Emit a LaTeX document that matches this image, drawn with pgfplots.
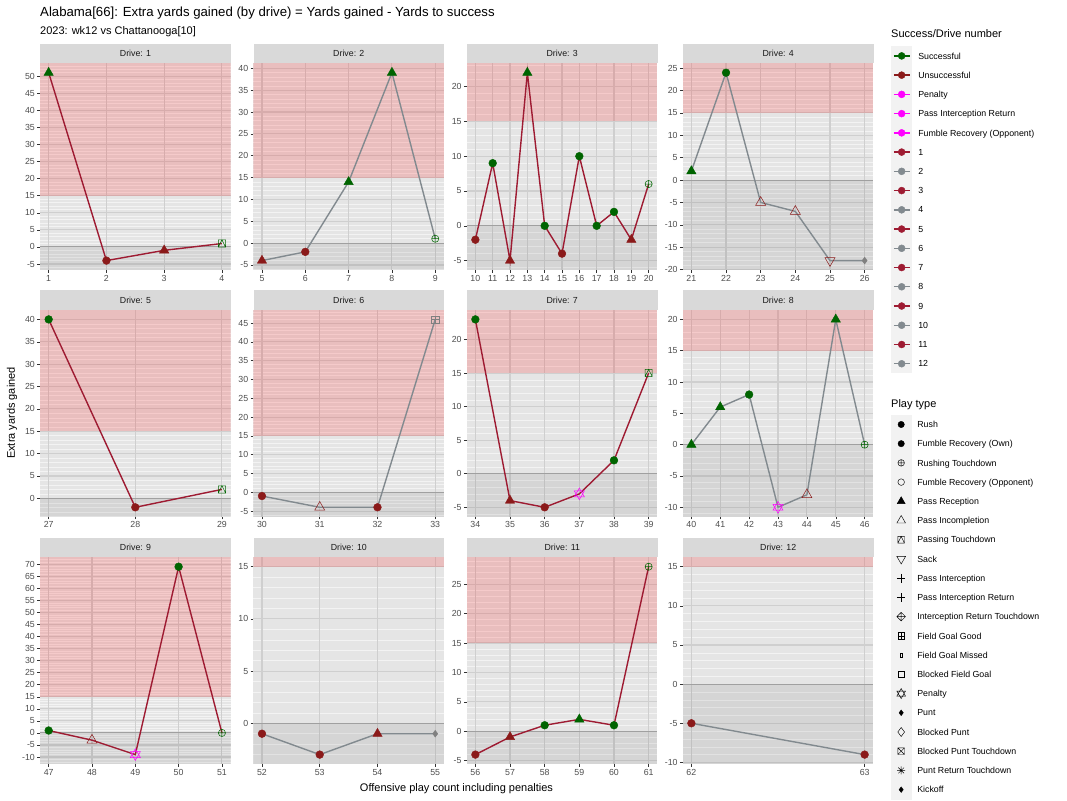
\documentclass[border=0pt]{standalone}
\usepackage{fontspec}
\setmainfont{Liberation Sans}
\usepackage{pgfplots}
\pgfplotsset{compat=1.18}
\usepackage{pgfplotstable}

\definecolor{sgreen}{HTML}{006400}
\definecolor{sred}{HTML}{8B1A1A}
\definecolor{crim}{HTML}{9E1B32}
\definecolor{dgrey}{HTML}{828A8F}
\definecolor{pgrey}{HTML}{808080}
\definecolor{mag}{HTML}{FF00FF}
\definecolor{stripbg}{HTML}{D9D9D9}
\definecolor{panelbg}{HTML}{E5E5E5}
\definecolor{majgrid}{HTML}{CFCFCF}
\definecolor{mingrid}{HTML}{F3F3F3}
\definecolor{keybg}{HTML}{F2F2F2}
\definecolor{ticklab}{HTML}{4D4D4D}
\definecolor{tickc}{HTML}{333333}
\definecolor{zerol}{HTML}{A0A0A0}

% ggplot-like shapes
\pgfdeclareplotmark{ptd}{%
  \pgfpathrectangle{\pgfqpoint{-\pgfplotmarksize}{-\pgfplotmarksize}}{\pgfqpoint{2\pgfplotmarksize}{2\pgfplotmarksize}}%
  \pgfpathmoveto{\pgfqpoint{-\pgfplotmarksize}{-\pgfplotmarksize}}%
  \pgfpathlineto{\pgfqpoint{0pt}{\pgfplotmarksize}}%
  \pgfpathlineto{\pgfqpoint{\pgfplotmarksize}{-\pgfplotmarksize}}%
  \pgfusepathqstroke}
\pgfdeclareplotmark{fgg}{%
  \pgfpathrectangle{\pgfqpoint{-\pgfplotmarksize}{-\pgfplotmarksize}}{\pgfqpoint{2\pgfplotmarksize}{2\pgfplotmarksize}}%
  \pgfpathmoveto{\pgfqpoint{-\pgfplotmarksize}{0pt}}\pgfpathlineto{\pgfqpoint{\pgfplotmarksize}{0pt}}%
  \pgfpathmoveto{\pgfqpoint{0pt}{-\pgfplotmarksize}}\pgfpathlineto{\pgfqpoint{0pt}{\pgfplotmarksize}}%
  \pgfusepathqstroke}
\pgfdeclareplotmark{boxx}{%
  \pgfpathrectangle{\pgfqpoint{-\pgfplotmarksize}{-\pgfplotmarksize}}{\pgfqpoint{2\pgfplotmarksize}{2\pgfplotmarksize}}%
  \pgfpathmoveto{\pgfqpoint{-\pgfplotmarksize}{-\pgfplotmarksize}}\pgfpathlineto{\pgfqpoint{\pgfplotmarksize}{\pgfplotmarksize}}%
  \pgfpathmoveto{\pgfqpoint{-\pgfplotmarksize}{\pgfplotmarksize}}\pgfpathlineto{\pgfqpoint{\pgfplotmarksize}{-\pgfplotmarksize}}%
  \pgfusepathqstroke}
\pgfdeclareplotmark{dplus}{%
  \pgfpathmoveto{\pgfqpoint{0pt}{\pgfplotmarksize}}\pgfpathlineto{\pgfqpoint{\pgfplotmarksize}{0pt}}%
  \pgfpathlineto{\pgfqpoint{0pt}{-\pgfplotmarksize}}\pgfpathlineto{\pgfqpoint{-\pgfplotmarksize}{0pt}}\pgfpathclose
  \pgfpathmoveto{\pgfqpoint{-\pgfplotmarksize}{0pt}}\pgfpathlineto{\pgfqpoint{\pgfplotmarksize}{0pt}}%
  \pgfpathmoveto{\pgfqpoint{0pt}{-\pgfplotmarksize}}\pgfpathlineto{\pgfqpoint{0pt}{\pgfplotmarksize}}%
  \pgfusepathqstroke}
\pgfdeclareplotmark{sack}{%
  \pgfpathmoveto{\pgfqpoint{0pt}{-\pgfplotmarksize}}%
  \pgfpathlineto{\pgfqpoint{-0.866\pgfplotmarksize}{0.5\pgfplotmarksize}}%
  \pgfpathlineto{\pgfqpoint{0.866\pgfplotmarksize}{0.5\pgfplotmarksize}}\pgfpathclose
  \pgfusepathqstroke}
\pgfdeclareplotmark{david}{%
  \pgfpathmoveto{\pgfqpoint{0pt}{\pgfplotmarksize}}%
  \pgfpathlineto{\pgfqpoint{-0.866\pgfplotmarksize}{-0.5\pgfplotmarksize}}%
  \pgfpathlineto{\pgfqpoint{0.866\pgfplotmarksize}{-0.5\pgfplotmarksize}}\pgfpathclose
  \pgfpathmoveto{\pgfqpoint{0pt}{-\pgfplotmarksize}}%
  \pgfpathlineto{\pgfqpoint{-0.866\pgfplotmarksize}{0.5\pgfplotmarksize}}%
  \pgfpathlineto{\pgfqpoint{0.866\pgfplotmarksize}{0.5\pgfplotmarksize}}\pgfpathclose
  \pgfusepathqstroke}
\pgfdeclareplotmark{fgm}{%
  \pgfpathrectangle{\pgfqpoint{-0.3\pgfplotmarksize}{-0.7\pgfplotmarksize}}{\pgfqpoint{0.6\pgfplotmarksize}{1.4\pgfplotmarksize}}%
  \pgfusepathqstroke}
\pgfdeclareplotmark{star8}{%
  \pgfpathmoveto{\pgfqpoint{-\pgfplotmarksize}{0pt}}\pgfpathlineto{\pgfqpoint{\pgfplotmarksize}{0pt}}%
  \pgfpathmoveto{\pgfqpoint{0pt}{-\pgfplotmarksize}}\pgfpathlineto{\pgfqpoint{0pt}{\pgfplotmarksize}}%
  \pgfpathmoveto{\pgfqpoint{-0.707\pgfplotmarksize}{-0.707\pgfplotmarksize}}\pgfpathlineto{\pgfqpoint{0.707\pgfplotmarksize}{0.707\pgfplotmarksize}}%
  \pgfpathmoveto{\pgfqpoint{-0.707\pgfplotmarksize}{0.707\pgfplotmarksize}}\pgfpathlineto{\pgfqpoint{0.707\pgfplotmarksize}{-0.707\pgfplotmarksize}}%
  \pgfusepathqstroke}

\newcommand{\kh}{8.92pt}% half height of a legend key
\pgfplotsset{
  panel/.style={
    width=190.6pt, height=206.7pt, scale only axis,
    axis background/.style={fill=panelbg},
    axis x line*=bottom, axis y line*=left,
    axis line style={draw=none},
    tick align=outside, major tick length=2.75pt, minor tick length=0pt,
    tick style={draw=tickc, line width=0.5pt},
    xtick distance=1, ytick distance=5, minor y tick num=4,
    ymajorgrids, yminorgrids,
    major grid style={draw=majgrid, line width=1.07pt},
    minor grid style={draw=mingrid, line width=0.53pt},
    extra x tick labels={},
    extra x tick style={xmajorgrids=true, major tick length=0pt},
    ticklabel style={font=\fontsize{8.8}{10}\selectfont, text=ticklab},
    xticklabel style={inner sep=0pt, yshift=-2.2pt},
    yticklabel style={inner sep=0pt, xshift=-2.2pt},
    /pgf/number format/assume math mode=true,
    scaled ticks=false,
  },
  pts/.style={scatter, only marks, scatter src=explicit symbolic,
    scatter/classes={
      rg={mark=*, mark size=3.9pt, draw=sgreen, fill=sgreen},
      rr={mark=*, mark size=3.9pt, draw=sred, fill=sred},
      tg={mark=triangle*, mark size=5.4pt, draw=sgreen, fill=sgreen},
      tr={mark=triangle*, mark size=5.4pt, draw=sred, fill=sred},
      ir={mark=triangle, mark size=5.8pt, draw=sred, line width=0.5pt},
      pg={mark=ptd, mark size=3.6pt, draw=sgreen, line width=0.5pt},
      ug={mark=oplus, mark size=3.6pt, draw=sgreen, line width=0.5pt},
      sk={mark=sack, mark size=5.8pt, draw=sred, line width=0.5pt},
      pn={mark=david, mark size=5.8pt, draw=mag, line width=0.5pt},
      pt={mark=diamond*, mark size=3.4pt, draw=pgrey, fill=pgrey},
      fg={mark=fgg, mark size=3.6pt, draw=pgrey, line width=0.5pt}}},
  keys/.style={hide axis, at={(0pt,0pt)}, anchor=south west,
    width=1067pt, height=800pt, scale only axis,
    xmin=0, xmax=1, ymin=0, ymax=1,
    legend cell align=left,
    legend style={draw=none, fill=none, inner sep=0pt, row sep=0pt,
      column sep=6.2pt, font=\fontsize{8.8}{10}\selectfont,
      nodes={inner sep=0pt, minimum height=2*\kh, text depth=0pt, anchor=west}},
    legend image code/.code={%
      \fill[keybg] (0pt,-\kh) rectangle (19.5pt,\kh);
      \draw[##1, mark repeat=2, mark phase=2] plot coordinates {(1.9pt,0pt) (9.75pt,0pt) (17.6pt,0pt)};}},
}
\tikzset{strip/.style={fill=stripbg, inner sep=0pt, minimum width=190.6pt,
  minimum height=19.3pt, font=\fontsize{8.8}{10}\selectfont, text=black!90}}

% x = offensive play, y = extra yards, c = play type / success
\pgfplotstableread[row sep=\\]{x y c\\ 1 51 tg\\ 2 -4 rr\\ 3 -1 tr\\ 4 1 pg\\}\dA
\pgfplotstableread[row sep=\\]{x y c\\ 5 -4 tr\\ 6 -2 rr\\ 7 14 tg\\ 8 39 tg\\ 9 1 ug\\}\dB
\pgfplotstableread[row sep=\\]{x y c\\ 10 -2 rr\\ 11 9 rg\\ 12 -5 tr\\ 13 22 tg\\ 14 0 rg\\ 15 -4 rr\\ 16 10 rg\\ 17 0 rg\\ 18 2 rg\\ 19 -2 tr\\ 20 6 ug\\}\dC
\pgfplotstableread[row sep=\\]{x y c\\ 21 2 tg\\ 22 24 rg\\ 23 -5 ir\\ 24 -7 ir\\ 25 -18 sk\\ 26 -18 pt\\}\dD
\pgfplotstableread[row sep=\\]{x y c\\ 27 40 rg\\ 28 -2 rr\\ 29 2 pg\\}\dE
\pgfplotstableread[row sep=\\]{x y c\\ 30 -1 rr\\ 31 -4 ir\\ 32 -4 rr\\ 33 46 fg\\}\dF
\pgfplotstableread[row sep=\\]{x y c\\ 34 23 rg\\ 35 -4 tr\\ 36 -5 rr\\ 37 -3 pn\\ 38 2 rg\\ 39 15 pg\\}\dG
\pgfplotstableread[row sep=\\]{x y c\\ 40 0 tg\\ 41 6 tg\\ 42 8 rg\\ 43 -10 pn\\ 44 -8 ir\\ 45 20 tg\\ 46 0 ug\\}\dH
\pgfplotstableread[row sep=\\]{x y c\\ 47 1 rg\\ 48 -3 ir\\ 49 -9 pn\\ 50 69 rg\\ 51 0 ug\\}\dI
\pgfplotstableread[row sep=\\]{x y c\\ 52 -1 rr\\ 53 -3 rr\\ 54 -1 tr\\ 55 -1 pt\\}\dJ
\pgfplotstableread[row sep=\\]{x y c\\ 56 -4 rr\\ 57 -1 tr\\ 58 1 rg\\ 59 2 tg\\ 60 1 rg\\ 61 28 ug\\}\dK
\pgfplotstableread[row sep=\\]{x y c\\ 62 -5 rr\\ 63 -9 rr\\}\dL

% #1 left, #2 top (px from top), #3-#6 limits, #7 strip, #8 table, #9 line colour
\newcommand{\panel}[9]{%
\pgfmathtruncatemacro\xa{ceil(#3)}%
\pgfmathtruncatemacro\xb{floor(#4)}%
\begin{axis}[panel, at={({#1pt},{800pt-#2pt})}, anchor=north west,
  xmin=#3, xmax=#4, ymin=#5, ymax=#6, extra x ticks={\xa,...,\xb}]
\addplot[draw=none, fill=red, fill opacity=0.17] coordinates {(#3,15) (#4,15) (#4,#6) (#3,#6)} -- cycle;
\addplot[draw=none, fill=black, fill opacity=0.065] coordinates {(#3,#5) (#4,#5) (#4,0) (#3,0)} -- cycle;
\addplot[draw=zerol, line width=1pt] coordinates {(#3,0) (#4,0)};
\addplot[draw=#9, line width=1.4pt] table[x=x, y=y] {#8};
\addplot[pts] table[x=x, y=y, meta=c] {#8};
\end{axis}
\node[strip, anchor=south west] at ({#1pt},{800pt-#2pt}) {#7};
}

\begin{document}
\begin{tikzpicture}
\path[use as bounding box] (0pt,0pt) rectangle (1067pt,800pt);

\panel{40}{63.3}{0.85}{4.15}{-6.75}{53.75}{Drive: 1}{\dA}{crim}
\panel{253.3}{63.3}{4.8}{9.2}{-6.15}{41.15}{Drive: 2}{\dB}{dgrey}
\panel{466.7}{63.3}{9.5}{20.5}{-6.35}{23.35}{Drive: 3}{\dC}{crim}
\panel{682.7}{63.3}{20.75}{26.25}{-20.1}{26.1}{Drive: 4}{\dD}{dgrey}
\panel{40}{310}{26.9}{29.1}{-4.1}{42.1}{Drive: 5}{\dE}{crim}
\panel{253.3}{310}{29.85}{33.15}{-6.5}{48.5}{Drive: 6}{\dF}{dgrey}
\panel{466.7}{310}{33.75}{39.25}{-6.4}{24.4}{Drive: 7}{\dG}{crim}
\panel{682.7}{310}{39.7}{46.3}{-11.5}{21.5}{Drive: 8}{\dH}{dgrey}
\panel{40}{557.3}{46.8}{51.2}{-12.9}{72.9}{Drive: 9}{\dI}{crim}
\panel{253.3}{557.3}{51.85}{55.15}{-3.9}{15.9}{Drive: 10}{\dJ}{dgrey}
\panel{466.7}{557.3}{55.75}{61.25}{-5.6}{29.6}{Drive: 11}{\dK}{crim}
\panel{682.7}{557.3}{61.95}{63.05}{-10.2}{16.2}{Drive: 12}{\dL}{dgrey}

\node[anchor=base west, inner sep=0pt, font=\fontsize{13.2}{15}\selectfont] at (40pt,{800pt-16.7pt})
  {Alabama[66]: Extra yards gained (by drive) = Yards gained - Yards to success};
\node[anchor=base west, inner sep=0pt, font=\fontsize{11}{13}\selectfont] at (40pt,{800pt-35pt})
  {2023: wk12 vs Chattanooga[10]};
\node[anchor=base, inner sep=0pt, font=\fontsize{11}{13}\selectfont] at (456.5pt,{800pt-791pt})
  {Offensive play count including penalties};
\node[rotate=90, inner sep=0pt, font=\fontsize{11}{13}\selectfont] at (12pt,{800pt-413pt})
  {Extra yards gained};
\node[anchor=base west, inner sep=0pt, font=\fontsize{11}{13}\selectfont] at (891pt,{800pt-38pt})
  {Success/Drive number};
\node[anchor=base west, inner sep=0pt, font=\fontsize{11}{13}\selectfont] at (891pt,{800pt-407.8pt})
  {Play type};

\begin{axis}[keys, legend style={at={(axis description cs:0.83505,0.94238)}, anchor=north west}]
\addlegendimage{sgreen, line width=1.4pt, mark=*, mark size=3.5pt, mark options={line width=0.4pt}}\addlegendentry{Successful}
\addlegendimage{sred, line width=1.4pt, mark=*, mark size=3.5pt, mark options={line width=0.4pt}}\addlegendentry{Unsuccessful}
\addlegendimage{mag, line width=1.4pt, mark=*, mark size=3.5pt, mark options={line width=0.4pt}}\addlegendentry{Penalty}
\addlegendimage{mag, line width=1.4pt, mark=*, mark size=3.5pt, mark options={line width=0.4pt}}\addlegendentry{Pass Interception Return}
\addlegendimage{mag, line width=1.4pt, mark=*, mark size=3.5pt, mark options={line width=0.4pt}}\addlegendentry{Fumble Recovery (Opponent)}
\addlegendimage{crim, line width=1.4pt, mark=*, mark size=3.5pt, mark options={line width=0.4pt}}\addlegendentry{1}
\addlegendimage{dgrey, line width=1.4pt, mark=*, mark size=3.5pt, mark options={line width=0.4pt}}\addlegendentry{2}
\addlegendimage{crim, line width=1.4pt, mark=*, mark size=3.5pt, mark options={line width=0.4pt}}\addlegendentry{3}
\addlegendimage{dgrey, line width=1.4pt, mark=*, mark size=3.5pt, mark options={line width=0.4pt}}\addlegendentry{4}
\addlegendimage{crim, line width=1.4pt, mark=*, mark size=3.5pt, mark options={line width=0.4pt}}\addlegendentry{5}
\addlegendimage{dgrey, line width=1.4pt, mark=*, mark size=3.5pt, mark options={line width=0.4pt}}\addlegendentry{6}
\addlegendimage{crim, line width=1.4pt, mark=*, mark size=3.5pt, mark options={line width=0.4pt}}\addlegendentry{7}
\addlegendimage{dgrey, line width=1.4pt, mark=*, mark size=3.5pt, mark options={line width=0.4pt}}\addlegendentry{8}
\addlegendimage{crim, line width=1.4pt, mark=*, mark size=3.5pt, mark options={line width=0.4pt}}\addlegendentry{9}
\addlegendimage{dgrey, line width=1.4pt, mark=*, mark size=3.5pt, mark options={line width=0.4pt}}\addlegendentry{10}
\addlegendimage{crim, line width=1.4pt, mark=*, mark size=3.5pt, mark options={line width=0.4pt}}\addlegendentry{11}
\addlegendimage{dgrey, line width=1.4pt, mark=*, mark size=3.5pt, mark options={line width=0.4pt}}\addlegendentry{12}
\end{axis}

\renewcommand{\kh}{9.39pt}
\begin{axis}[keys, legend style={at={(axis description cs:0.83505,0.48163)}, anchor=north west}]
\addlegendimage{only marks, black, mark=*, mark size=3.2pt}\addlegendentry{Rush}
\addlegendimage{only marks, black, mark=*, mark size=3.2pt}\addlegendentry{Fumble Recovery (Own)}
\addlegendimage{only marks, black, mark=oplus, mark size=3.3pt, line width=0.45pt}\addlegendentry{Rushing Touchdown}
\addlegendimage{only marks, black, mark=o, mark size=3.3pt, line width=0.45pt}\addlegendentry{Fumble Recovery (Opponent)}
\addlegendimage{only marks, black, mark=triangle*, mark size=4.6pt}\addlegendentry{Pass Reception}
\addlegendimage{only marks, black, mark=triangle, mark size=5pt, line width=0.45pt}\addlegendentry{Pass Incompletion}
\addlegendimage{only marks, black, mark=ptd, mark size=3.3pt, line width=0.45pt}\addlegendentry{Passing Touchdown}
\addlegendimage{only marks, black, mark=sack, mark size=5pt, line width=0.45pt}\addlegendentry{Sack}
\addlegendimage{only marks, black, mark=+, mark size=4.3pt, line width=0.45pt}\addlegendentry{Pass Interception}
\addlegendimage{only marks, black, mark=+, mark size=4.3pt, line width=0.45pt}\addlegendentry{Pass Interception Return}
\addlegendimage{only marks, black, mark=dplus, mark size=4.3pt, line width=0.45pt}\addlegendentry{Interception Return Touchdown}
\addlegendimage{only marks, black, mark=fgg, mark size=3.3pt, line width=0.45pt}\addlegendentry{Field Goal Good}
\addlegendimage{only marks, black, mark=fgm, mark size=3.3pt, line width=0.45pt}\addlegendentry{Field Goal Missed}
\addlegendimage{only marks, black, mark=square, mark size=3.3pt, line width=0.45pt}\addlegendentry{Blocked Field Goal}
\addlegendimage{only marks, black, mark=david, mark size=5pt, line width=0.45pt}\addlegendentry{Penalty}
\addlegendimage{only marks, black, mark=diamond*, mark size=2.8pt}\addlegendentry{Punt}
\addlegendimage{only marks, black, mark=diamond, mark size=4.5pt, line width=0.45pt}\addlegendentry{Blocked Punt}
\addlegendimage{only marks, black, mark=boxx, mark size=3.3pt, line width=0.45pt}\addlegendentry{Blocked Punt Touchdown}
\addlegendimage{only marks, black, mark=star8, mark size=4pt, line width=0.45pt}\addlegendentry{Punt Return Touchdown}
\addlegendimage{only marks, black, mark=diamond*, mark size=2.8pt}\addlegendentry{Kickoff}
\end{axis}
\end{tikzpicture}
\end{document}
